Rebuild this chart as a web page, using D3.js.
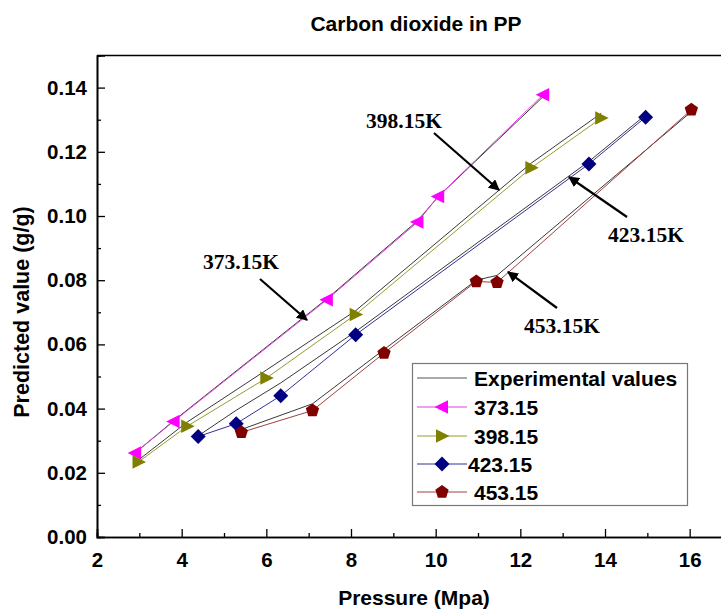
<!DOCTYPE html>
<html>
<head>
<meta charset="utf-8">
<script src="https://cdn.jsdelivr.net/npm/d3@7"></script>
<style>
  html, body { margin: 0; padding: 0; background: #fff; }
  svg { display: block; }
</style>
</head>
<body>
<svg id="chart" width="721" height="611"></svg>
<script>
// ---------- data ----------
const seriesNames = ["373.15", "398.15", "423.15", "453.15"];
const xTicks = [2, 4, 6, 8, 10, 12, 14, 16];
const yTicks = [0, 0.02, 0.04, 0.06, 0.08, 0.10, 0.12, 0.14];

const p373 = [2.90, 3.81, 7.43, 9.57, 10.06, 12.54];
const v373 = [0.0262, 0.0360, 0.0739, 0.0981, 0.1061, 0.1378];
const e373 = [0.0262, 0.0362, 0.0742, 0.0985, 0.1060, 0.1372];

const p398 = [2.98, 4.13, 6.00, 8.11, 12.26, 13.91];
const v398 = [0.0234, 0.0345, 0.0495, 0.0693, 0.1150, 0.1305];
const e398 = [0.0240, 0.0358, 0.0520, 0.0705, 0.1165, 0.1320];

const p423 = [4.39, 5.29, 6.34, 8.11, 13.62, 14.96];
const v423 = [0.0313, 0.0353, 0.0440, 0.0630, 0.1162, 0.1308];
const e423 = [0.0315, 0.0395, 0.0480, 0.0640, 0.1170, 0.1315];

const p453 = [5.41, 7.09, 8.78, 10.96, 11.45, 16.04];
const v453 = [0.0326, 0.0394, 0.0573, 0.0796, 0.0793, 0.1331];
const e453 = [0.0335, 0.0415, 0.0584, 0.0800, 0.0815, 0.1325];

const annoLabels = ["373.15K", "398.15K", "423.15K", "453.15K"];

// ---------- layout ----------
const svg = d3.select("#chart");
const mLeft = 97, mRight = 732, mTop = 55.5, mBottom = 537;
const x = d3.scaleLinear().domain([2, 17]).range([mLeft, mRight]);
const y = d3.scaleLinear().domain([0, 0.15]).range([mBottom, mTop]);

const font = "'Liberation Sans', Arial, sans-serif";
const serif = "'Liberation Serif', 'Times New Roman', serif";

// title
svg.append("text").attr("x", 416).attr("y", 31).attr("text-anchor", "middle")
  .attr("font-family", font).attr("font-weight", "bold").attr("font-size", 21)
  .text("Carbon dioxide in PP");

// frame (top line)
svg.append("line").attr("x1", mLeft).attr("x2", mRight).attr("y1", mTop).attr("y2", mTop)
  .attr("stroke", "#000").attr("stroke-width", 1.6);

// axes
const xAxis = d3.axisBottom(x).tickValues(xTicks).tickSize(-8).tickPadding(15).tickFormat(d3.format("d"));
const xMinor = d3.axisBottom(x).tickValues(d3.range(3, 17, 2)).tickSize(-4).tickFormat("");
const yAxis = d3.axisLeft(y).tickValues(yTicks).tickSize(-8).tickPadding(10).tickFormat(d3.format(".2f"));
const yMinor = d3.axisLeft(y).tickValues(d3.range(0.01, 0.15, 0.02)).tickSize(-4).tickFormat("");

function styleAxis(g) {
  g.select(".domain").attr("stroke", "#000").attr("stroke-width", 1.6);
  g.selectAll(".tick line").attr("stroke", "#000").attr("stroke-width", 1.3);
  g.selectAll(".tick text").attr("font-family", font).attr("font-weight", "bold")
    .attr("font-size", 20.5).attr("fill", "#000");
}
svg.append("g").attr("transform", `translate(0,${mBottom})`).call(xMinor).call(styleAxis);
svg.append("g").attr("transform", `translate(0,${mBottom})`).call(xAxis).call(styleAxis);
svg.append("g").attr("transform", `translate(${mLeft},0)`).call(yMinor).call(styleAxis);
svg.append("g").attr("transform", `translate(${mLeft},0)`).call(yAxis).call(styleAxis);

// axis labels
svg.append("text").attr("x", 414).attr("y", 605).attr("text-anchor", "middle")
  .attr("font-family", font).attr("font-weight", "bold").attr("font-size", 21)
  .text("Pressure (Mpa)");
svg.append("text").attr("transform", `translate(29,312) rotate(-90)`)
  .attr("text-anchor", "middle")
  .attr("font-family", font).attr("font-weight", "bold").attr("font-size", 21.5)
  .text("Predicted value (g/g)");

// ---------- series ----------
const colors = ["#ff00ff", "#808000", "#000080", "#800000"];
const lineColors = ["#e040e0", "#9a9a30", "#30309a", "#a04040"];
const pressures = [p373, p398, p423, p453];
const preds = [v373, v398, v423, v453];
const exps = [e373, e398, e423, e453];

// marker shapes
function triLeft(s) { return `M${-s},0L${s*0.8},${-s*0.9}L${s*0.8},${s*0.9}Z`; }
function triRight(s) { return `M${s},0L${-s*0.8},${-s*0.9}L${-s*0.8},${s*0.9}Z`; }
function diamond(s) { return `M0,${-s}L${s},0L0,${s}L${-s},0Z`; }
function pentagon(s) {
  const pts = d3.range(5).map(i => {
    const a = -Math.PI / 2 + i * 2 * Math.PI / 5;
    return [s * Math.cos(a), s * Math.sin(a)];
  });
  return "M" + pts.map(p => p.join(",")).join("L") + "Z";
}
const shapes = [() => triLeft(7.5), () => triRight(7.5), () => diamond(7.5), () => pentagon(7)];

const line = d3.line().x(d => x(d[0])).y(d => y(d[1]));
svg.append("clipPath").attr("id", "plotclip").append("rect")
  .attr("x", mLeft).attr("y", mTop).attr("width", mRight - mLeft).attr("height", mBottom - mTop);
const plot = svg.append("g").attr("clip-path", "url(#plotclip)");

// experimental lines (thin black)
exps.forEach((e, i) => {
  const pts = pressures[i].map((p, j) => [p, e[j]]);
  plot.append("path").attr("d", line(pts)).attr("fill", "none")
    .attr("stroke", "#222").attr("stroke-width", 0.9);
});
// predicted series
preds.forEach((v, i) => {
  const pts = pressures[i].map((p, j) => [p, v[j]]);
  plot.append("path").attr("d", line(pts)).attr("fill", "none")
    .attr("stroke", lineColors[i]).attr("stroke-width", 1);
  plot.selectAll(null).data(pts).enter().append("path")
    .attr("transform", d => `translate(${x(d[0])},${y(d[1])})`)
    .attr("d", shapes[i]).attr("fill", colors[i]);
});

// ---------- annotations ----------
svg.append("defs").append("marker").attr("id", "arrow")
  .attr("viewBox", "0 0 10 10").attr("refX", 9).attr("refY", 5)
  .attr("markerWidth", 5).attr("markerHeight", 5).attr("orient", "auto")
  .append("path").attr("d", "M0,0L10,5L0,10Z").attr("fill", "#000");

const annos = [
  { t: annoLabels[0], tx: 241, ty: 269, a: [[260, 279], [307, 320]] },
  { t: annoLabels[1], tx: 404, ty: 128, a: [[434, 133], [499, 190]] },
  { t: annoLabels[2], tx: 646, ty: 242, a: [[627, 217], [569, 177]] },
  { t: annoLabels[3], tx: 562, ty: 333, a: [[557, 308], [508, 272]] }
];
annos.forEach(d => {
  svg.append("text").attr("x", d.tx).attr("y", d.ty).attr("text-anchor", "middle")
    .attr("font-family", serif).attr("font-weight", "bold").attr("font-size", 21.5)
    .text(d.t);
  svg.append("line").attr("x1", d.a[0][0]).attr("y1", d.a[0][1])
    .attr("x2", d.a[1][0]).attr("y2", d.a[1][1])
    .attr("stroke", "#000").attr("stroke-width", 2.2).attr("marker-end", "url(#arrow)");
});

// ---------- legend ----------
const lg = svg.append("g");
lg.append("rect").attr("x", 412.5).attr("y", 363.5).attr("width", 275).attr("height", 142)
  .attr("fill", "#fff").attr("stroke", "#777").attr("stroke-width", 1.2);
const legendRows = [{ name: "Experimental values", exp: true }]
  .concat(seriesNames.map((n, i) => ({ name: n, i })));
const rowY = [378, 407, 436, 464, 492];
legendRows.forEach((r, k) => {
  const yy = rowY[k];
  lg.append("line").attr("x1", 417).attr("x2", 467).attr("y1", yy).attr("y2", yy)
    .attr("stroke", r.exp ? "#555" : lineColors[r.i]).attr("stroke-width", 1);
  if (!r.exp) {
    lg.append("path").attr("transform", `translate(442,${yy})`)
      .attr("d", shapes[r.i]).attr("fill", colors[r.i]);
  }
  lg.append("text").attr("x", r.i === 2 ? 468 : 474).attr("y", yy).attr("dy", "0.36em")
    .attr("font-family", font).attr("font-weight", "bold").attr("font-size", 21)
    .text(r.name);
});
</script>
</body>
</html>
